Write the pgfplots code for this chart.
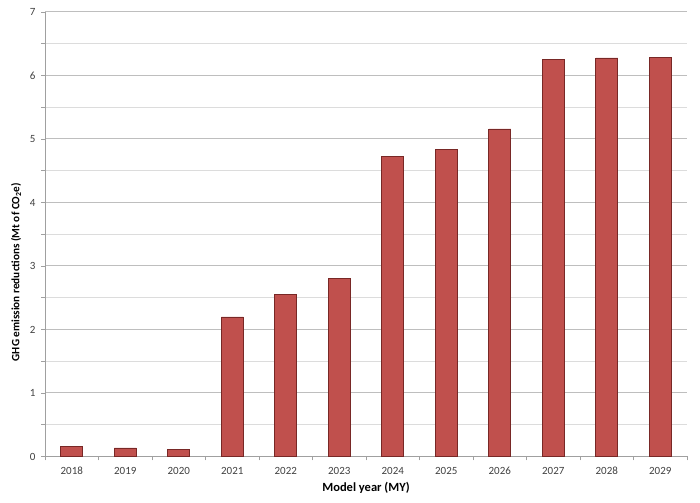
\documentclass[border=0pt]{standalone}
\usepackage{pgfplots}
\pgfplotsset{compat=1.18}
\usepackage{fontspec}
\setmainfont{Carlito}

\definecolor{barfill}{RGB}{192,80,77}
\definecolor{baredge}{RGB}{120,40,38}
\definecolor{gridmaj}{RGB}{190,190,190}
\definecolor{gridmin}{RGB}{220,220,220}
\definecolor{axisgray}{RGB}{160,160,160}
\definecolor{ticktext}{RGB}{64,64,64}

\begin{document}
\begin{tikzpicture}[x=1bp,y=1bp]
\useasboundingbox (0,0) rectangle (700,503);
\begin{axis}[
  at={(45bp,46.5bp)}, anchor=south west,
  scale only axis,
  width=642bp, height=444.5bp,
  xmin=-0.5, xmax=11.5,
  ymin=0, ymax=7,
  xtick={0,...,11},
  xticklabels={2018,2019,2020,2021,2022,2023,2024,2025,2026,2027,2028,2029},
  minor xtick={-0.5,0.5,...,11.5},
  ytick={0,...,7},
  minor ytick={0.5,1.5,...,6.5},
  ymajorgrids, yminorgrids,
  major grid style={gridmaj, line width=1pt},
  minor grid style={gridmin, line width=0.8pt},
  axis x line*=bottom, axis y line*=left,
  axis line style={axisgray, line width=0.8pt},
  major x tick style={draw=none},
  minor x tick style={axisgray, line width=0.8pt},
  y tick style={axisgray, line width=0.8pt},
  tick align=outside,
  major tick length=4bp, minor tick length=4bp,
  tick label style={font=\fontsize{11bp}{13bp}\selectfont, text=ticktext},
  /pgf/number format/assume math mode=true,
  yticklabel style={xshift=-2bp},
  xticklabel style={yshift=-3bp},
  xlabel={\bfseries Model year (MY)},
  ylabel={\bfseries GHG emission reductions (Mt of CO\textsubscript{2}e)},
  xlabel style={font=\fontsize{12.5bp}{14bp}\selectfont, yshift=-1bp},
  ylabel style={font=\fontsize{11.2bp}{13bp}\selectfont, at={(ticklabel cs:0.415)}, yshift=2bp},
  clip=false,
]
\addplot[ybar, bar width=22bp, fill=barfill, draw=baredge, line width=0.6pt]
coordinates {
(0,0.155) (1,0.134) (2,0.113) (3,2.197) (4,2.548) (5,2.80)
(6,4.72) (7,4.84) (8,5.16) (9,6.255) (10,6.276) (11,6.28)
};
\end{axis}
\end{tikzpicture}
\end{document}
